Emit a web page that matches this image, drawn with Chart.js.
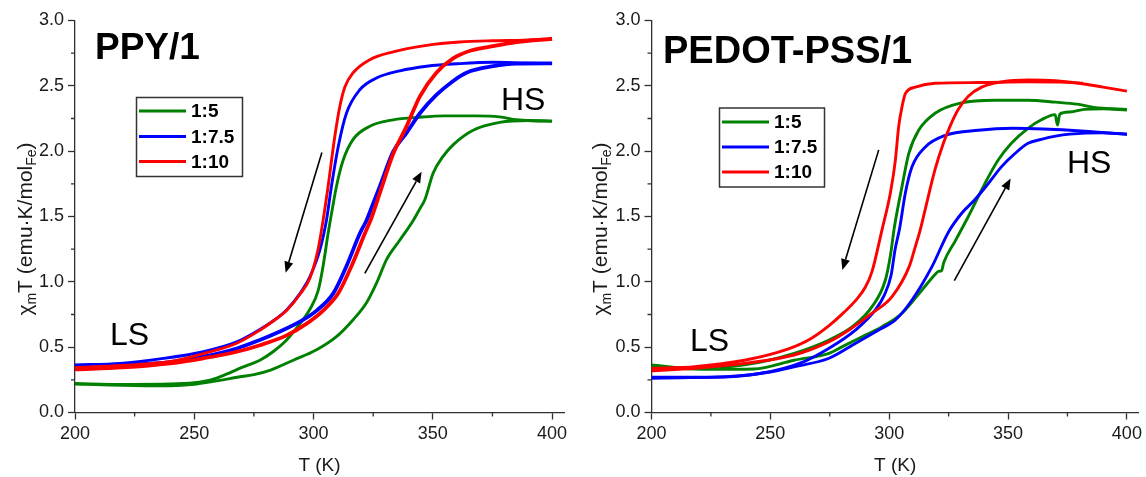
<!DOCTYPE html>
<html><head><meta charset="utf-8">
<script src="https://cdn.jsdelivr.net/npm/chart.js@4.4.1/dist/chart.umd.min.js"></script>
<style>
html,body{margin:0;padding:0;background:#fff;}
#wrap{position:relative;width:1146px;height:477px;overflow:hidden;background:#fff;}
.pane{position:absolute;top:0;width:573px;height:477px;}
canvas{display:block;}
</style></head><body>
<div id="wrap">
<div class="pane" style="left:0"><canvas id="c1" width="573" height="477"></canvas></div>
<div class="pane" style="left:573px"><canvas id="c2" width="573" height="477"></canvas></div>
</div>
<script>
// ---------- data ----------
const SERIES_LABELS = ['1:5', '1:7.5', '1:10'];
const X_MAJOR = [200, 250, 300, 350, 400];
const X_MINOR = [225, 275, 325, 375];
const Y_MAJOR = [0, 0.5, 1, 1.5, 2, 2.5, 3];
const Y_MINOR = [0.25, 0.75, 1.25, 1.75, 2.25, 2.75];
const X_RANGE = [200, 405];
const Y_RANGE = [0, 3];

// PPY/1  [T (K), chi_m T]
const PPY_15_HEAT = [[200,0.218],[215,0.21],[230,0.205],[240,0.204],[250,0.215],[257,0.235],[262,0.25],[268,0.27],[275,0.29],[282,0.325],[291.5,0.40],[301.3,0.48],[309.6,0.58],[316.6,0.71],[322.2,0.84],[326.4,0.99],[330.6,1.17],[336.2,1.32],[341.8,1.47],[344.6,1.56],[346.7,1.63],[350.1,1.83],[354.3,1.96],[358.6,2.05],[366.9,2.16],[378,2.22],[390,2.235],[400,2.23]];
const PPY_15_COOL = [[200,0.222],[220,0.215],[240,0.218],[250,0.228],[257,0.25],[263,0.29],[270,0.345],[277.5,0.40],[283,0.465],[288.7,0.555],[294.3,0.68],[298.5,0.79],[301.9,0.93],[304,1.12],[306.1,1.37],[307.8,1.55],[309.6,1.73],[312.4,1.93],[316.6,2.09],[323.6,2.19],[333.4,2.24],[344.6,2.26],[355,2.27],[368,2.27],[378,2.262],[385,2.24],[392,2.232],[400,2.23]];
const PPY_75_HEAT = [[200,0.355],[220,0.365],[240,0.385],[253.8,0.427],[267.8,0.49],[277.5,0.555],[285.9,0.62],[294.3,0.695],[301.3,0.78],[308.2,0.91],[313.8,1.12],[319.4,1.37],[322.2,1.47],[325,1.6],[327.8,1.73],[333.4,1.996],[339,2.14],[344.6,2.29],[351.5,2.43],[358,2.53],[364.1,2.60],[375.3,2.65],[385,2.67],[400,2.672]];
const PPY_75_COOL = [[200,0.364],[218.9,0.376],[235.6,0.41],[253.8,0.465],[267.8,0.54],[277.5,0.635],[283,0.70],[288.7,0.785],[294.3,0.91],[298.5,1.04],[302.6,1.24],[305.4,1.47],[307.5,1.73],[310.3,2.03],[313.8,2.29],[319.4,2.47],[326.4,2.56],[336.2,2.615],[347.4,2.65],[361.3,2.67],[375.3,2.68],[388,2.675],[400,2.67]];
const PPY_10_HEAT = [[200,0.33],[220,0.345],[239.8,0.376],[253.8,0.415],[267.8,0.465],[277.5,0.515],[288.7,0.59],[297.1,0.68],[304,0.78],[310.3,0.91],[315.9,1.12],[321.5,1.37],[324.3,1.49],[327.8,1.68],[333.4,1.98],[339,2.19],[344.6,2.42],[351.5,2.60],[358.5,2.71],[366,2.77],[374,2.80],[385.1,2.835],[400,2.86]];
const PPY_10_COOL = [[200,0.345],[220,0.36],[240,0.39],[253.8,0.45],[267.8,0.53],[277.5,0.63],[283.1,0.70],[288.7,0.78],[294.3,0.905],[298.5,1.03],[301.8,1.24],[304,1.47],[306.1,1.73],[308.9,2.11],[311,2.34],[313.1,2.49],[316.6,2.60],[323.6,2.70],[333.4,2.76],[347.4,2.81],[361.3,2.835],[375,2.845],[388,2.85],[400,2.86]];
const PPY_ARROWS = [[303.5,1.99,288.3,1.07],[321.5,1.065,345.3,1.843]];

// PEDOT-PSS/1
const PED_15_HEAT = [[200,0.35],[225,0.33],[243,0.333],[260,0.40],[274.7,0.453],[280.3,0.504],[288.6,0.58],[297,0.657],[305.4,0.76],[313.8,0.938],[319.5,1.06],[320.7,1.08],[322,1.085],[323,1.15],[327.7,1.31],[333.3,1.5],[340.2,1.75],[345.8,1.93],[351.4,2.06],[358.4,2.175],[364,2.24],[369.8,2.28],[370.8,2.2],[371.8,2.285],[376,2.3],[382,2.32],[390,2.325],[400,2.315]];
const PED_15_COOL = [[200,0.364],[218.2,0.338],[239.1,0.364],[260,0.453],[274.7,0.555],[284.5,0.657],[292.8,0.81],[298.4,1.014],[300.5,1.2],[302.2,1.42],[305.4,1.73],[308.2,1.98],[312.4,2.16],[319.3,2.29],[330.5,2.37],[344.4,2.39],[358.4,2.39],[370,2.375],[379,2.36],[386,2.335],[400,2.32]];
const PED_75_HEAT = [[200,0.262],[236.4,0.28],[250,0.31],[260,0.35],[274.7,0.415],[285.9,0.53],[295.6,0.632],[302.6,0.708],[309.6,0.861],[318,1.116],[324.9,1.38],[330.5,1.525],[336.1,1.63],[341.6,1.75],[347.2,1.88],[352.8,1.98],[358.4,2.06],[364,2.09],[370,2.115],[376,2.13],[390,2.14],[400,2.13]];
const PED_75_COOL = [[200,0.27],[225.2,0.27],[246.1,0.30],[264.2,0.39],[274.7,0.491],[285.9,0.632],[294.2,0.785],[298,0.9],[300.8,1.05],[302.5,1.25],[304.4,1.41],[306.8,1.68],[309.6,1.88],[315.1,2.03],[323.5,2.12],[337.5,2.16],[352,2.175],[365,2.17],[376,2.16],[388,2.145],[400,2.13]];
const PED_10_HEAT = [[200,0.32],[218.2,0.338],[239.1,0.376],[260,0.44],[274.5,0.54],[283.1,0.632],[292.8,0.76],[301.2,0.887],[308.5,1.12],[311,1.27],[313.1,1.40],[315.1,1.55],[319.3,1.86],[322.8,2.06],[325.6,2.19],[329.1,2.32],[333.3,2.42],[338.9,2.49],[347.2,2.53],[358.4,2.545],[370,2.54],[380,2.52],[390,2.49],[400,2.46]];
const PED_10_COOL = [[200,0.338],[218.2,0.351],[239.1,0.40],[257.3,0.485],[267,0.565],[274.7,0.665],[280.3,0.755],[286,0.86],[290,0.96],[292.8,1.08],[297,1.40],[300.5,1.68],[302.6,1.93],[304,2.19],[305.4,2.34],[306.8,2.44],[311,2.49],[319.3,2.52],[337.5,2.525],[358.4,2.53],[372,2.528],[381.5,2.52]];
const PED_ARROWS = [[295.6,2.01,280.3,1.09],[327.4,1.01,351.1,1.79]];

// ---------- styles ----------
const COLORS = ['#008000', '#0000ff', '#ff0000'];
const AXIS = '#303030';
const FONT = '"Liberation Sans", Arial, Helvetica, sans-serif';

function pts(a) { return a.map(p => ({x: p[0], y: p[1]})); }

const decor = {
  id: 'decor',
  afterDraw(chart, args, o) {
    const ctx = chart.ctx, xs = chart.scales.x, ys = chart.scales.y;
    ctx.save();
    // minor ticks
    ctx.strokeStyle = AXIS; ctx.lineWidth = 1.3;
    ctx.beginPath();
    X_MINOR.forEach(v => { const px = xs.getPixelForValue(v); ctx.moveTo(px, ys.bottom); ctx.lineTo(px, ys.bottom + 4); });
    Y_MINOR.forEach(v => { const py = ys.getPixelForValue(v); ctx.moveTo(xs.left, py); ctx.lineTo(xs.left - 4, py); });
    ctx.stroke();

    // arrows
    ctx.strokeStyle = '#000'; ctx.fillStyle = '#000'; ctx.lineWidth = 1.6;
    o.arrows.forEach(a => {
      const x1 = xs.getPixelForValue(a[0]), y1 = ys.getPixelForValue(a[1]);
      const x2 = xs.getPixelForValue(a[2]), y2 = ys.getPixelForValue(a[3]);
      const ang = Math.atan2(y2 - y1, x2 - x1), L = 11, W = 4.5;
      const bx = x2 - L * Math.cos(ang), by = y2 - L * Math.sin(ang);
      ctx.beginPath(); ctx.moveTo(x1, y1); ctx.lineTo(bx, by); ctx.stroke();
      ctx.beginPath();
      ctx.moveTo(x2, y2);
      ctx.lineTo(bx + W * Math.sin(ang), by - W * Math.cos(ang));
      ctx.lineTo(bx - W * Math.sin(ang), by + W * Math.cos(ang));
      ctx.closePath(); ctx.fill();
    });

    // big title
    ctx.fillStyle = '#000';
    ctx.textBaseline = 'alphabetic'; ctx.textAlign = 'left';
    ctx.font = 'bold ' + o.titleSize + 'px ' + FONT;
    ctx.fillText(o.title, o.titlePos[0], o.titlePos[1]);
    // HS / LS
    ctx.font = '32px ' + FONT;
    ctx.fillText('HS', o.hsPos[0], o.hsPos[1]);
    ctx.fillText('LS', o.lsPos[0], o.lsPos[1]);

    // legend
    const b = o.legendBox;
    ctx.fillStyle = '#fff'; ctx.fillRect(b[0], b[1], b[2], b[3]);
    ctx.strokeStyle = '#333'; ctx.lineWidth = 1.5;
    ctx.strokeRect(b[0], b[1], b[2], b[3]);
    ctx.font = 'bold 19px ' + FONT;
    ctx.textBaseline = 'middle';
    SERIES_LABELS.forEach((lab, i) => {
      const yy = o.legendRows[i];
      ctx.strokeStyle = COLORS[i]; ctx.lineWidth = 3.2;
      ctx.beginPath(); ctx.moveTo(o.legendLine[0], yy); ctx.lineTo(o.legendLine[1], yy); ctx.stroke();
      ctx.fillStyle = '#000';
      ctx.fillText(lab, o.legendText, yy + 1);
    });

    // y axis title with subscripts
    ctx.translate(o.yTitle[0], o.yTitle[1]);
    ctx.rotate(-Math.PI / 2);
    ctx.fillStyle = '#1a1a1a';
    ctx.textBaseline = 'alphabetic';
    const big = '21px ' + FONT, small = '14px ' + FONT;
    const parts = [['\u03c7', big, 0], ['m', small, 4], ['T (emu\u00b7K/mol', big, 0], ['Fe', small, 4], [')', big, 0]];
    let tot = 0;
    parts.forEach(p => { ctx.font = p[1]; tot += ctx.measureText(p[0]).width; });
    let cx = -tot / 2;
    parts.forEach(p => { ctx.font = p[1]; ctx.fillText(p[0], cx, p[2]); cx += ctx.measureText(p[0]).width; });
    ctx.restore();
  }
};

function makeChart(id, data, o) {
  const datasets = [];
  // draw order: first dataset ends on top -> red first
  [2, 1, 0].forEach(i => {
    [['heat', data[i][0]], ['cool', data[i][1]]].forEach(([k, arr]) => {
      datasets.push({
        label: SERIES_LABELS[i] + ' ' + k,
        data: pts(arr),
        showLine: true,
        borderColor: COLORS[i],
        backgroundColor: COLORS[i],
        borderWidth: (k === 'heat' ? o.heatWidth[i] : 2.9),
        pointRadius: 0,
        pointHoverRadius: 0,
        fill: false,
        cubicInterpolationMode: 'monotone'
      });
    });
  });
  return new Chart(document.getElementById(id), {
    type: 'scatter',
    data: {datasets},
    options: {
      responsive: false,
      devicePixelRatio: 1,
      animation: false,
      events: [],
      layout: {padding: {left: 0, right: o.padRight, top: 20.5, bottom: 0}},
      plugins: {legend: {display: false}, tooltip: {enabled: false}, decor: o},
      scales: {
        x: {
          type: 'linear', min: X_RANGE[0], max: X_RANGE[1],
          afterBuildTicks: s => { s.ticks = X_MAJOR.concat(X_MINOR).sort((a, b) => a - b).map(v => ({value: v})); },
          afterFit: s => { s.height = 64.5; },
          ticks: {autoSkip: false, maxRotation: 0, padding: 4, color: '#1a1a1a',
                  font: {family: FONT, size: 18},
                  callback: v => X_MAJOR.includes(v) ? String(v) : ''},
          grid: {drawOnChartArea: false, drawTicks: true, tickLength: 7, tickWidth: 1.3,
                 tickColor: c => (c.tick && X_MAJOR.includes(c.tick.value)) ? AXIS : 'rgba(0,0,0,0)'},
          border: {display: true, color: AXIS, width: 1.3},
          title: {display: true, text: 'T (K)', color: '#1a1a1a', font: {family: FONT, size: 19}, padding: {top: 0, bottom: 0}}
        },
        y: {
          type: 'linear', min: Y_RANGE[0], max: Y_RANGE[1],
          afterBuildTicks: s => { s.ticks = Y_MAJOR.concat(Y_MINOR).sort((a, b) => a - b).map(v => ({value: v})); },
          afterFit: s => { s.width = o.yWidth; },
          ticks: {autoSkip: false, padding: 4, color: '#1a1a1a',
                  font: {family: FONT, size: 18},
                  callback: v => Y_MAJOR.includes(v) ? v.toFixed(1) : ''},
          grid: {drawOnChartArea: false, drawTicks: true, tickLength: 7, tickWidth: 1.3,
                 tickColor: c => (c.tick && Y_MAJOR.includes(c.tick.value)) ? AXIS : 'rgba(0,0,0,0)'},
          border: {display: true, color: AXIS, width: 1.3}
        }
      }
    },
    plugins: [decor]
  });
}

makeChart('c1',
  [[PPY_15_HEAT, PPY_15_COOL], [PPY_75_HEAT, PPY_75_COOL], [PPY_10_HEAT, PPY_10_COOL]],
  {
    title: 'PPY/1', titleSize: 37, titlePos: [95, 59],
    hsPos: [501, 110], lsPos: [110, 345],
    legendBox: [136.5, 97.5, 106, 79], legendLine: [139, 186], legendText: 191,
    legendRows: [111, 136.5, 161.5],
    yTitle: [32, 229], yWidth: 75, padRight: 9,
    heatWidth: [2.9, 3.8, 3.8],
    arrows: PPY_ARROWS
  });

makeChart('c2',
  [[PED_15_HEAT, PED_15_COOL], [PED_75_HEAT, PED_75_COOL], [PED_10_HEAT, PED_10_COOL]],
  {
    title: 'PEDOT-PSS/1', titleSize: 38, titlePos: [90, 63],
    hsPos: [494, 173], lsPos: [117, 351],
    legendBox: [146.5, 108, 105, 79], legendLine: [149, 196], legendText: 201,
    legendRows: [122, 147, 172],
    yTitle: [34, 229], yWidth: 78.5, padRight: 4.5,
    heatWidth: [2.9, 2.9, 2.9],
    arrows: PED_ARROWS
  });
</script>
</body></html>
